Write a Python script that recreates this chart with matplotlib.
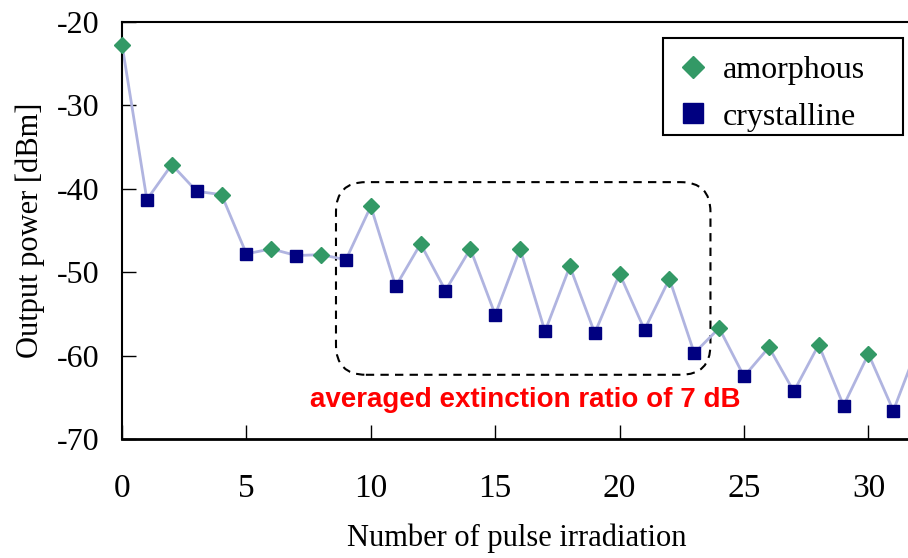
import numpy as np
import matplotlib
matplotlib.use('Agg')
import matplotlib.pyplot as plt
from matplotlib.patches import FancyBboxPatch, Rectangle

plt.rcParams['font.family'] = ['Liberation Serif']
plt.rcParams['axes.unicode_minus'] = False

# 照射回数と出力パワー
pulse = list(range(33))
power = [-22.7, -41.3, -37.1, -40.3, -40.7, -47.8, -47.2, -48.0, -47.9, -48.5,
         -42.1, -51.7, -46.6, -52.2, -47.2, -55.1, -47.2, -57.1, -49.3, -57.3,
         -50.2, -56.9, -50.8, -59.7, -56.7, -62.5, -59.0, -64.3, -58.7, -66.0,
         -59.8, -66.6, -58.8]
amorph_x = pulse[0::2]
amorph_y = power[0::2]
cryst_x = pulse[1::2]
cryst_y = power[1::2]

xticks = [0, 5, 10, 15, 20, 25, 30]
yticks = [-70, -60, -50, -40, -30, -20]

# 破線の角丸枠 (データ座標)
box_x0, box_x1 = 8.6, 23.65
box_y0, box_y1 = -62.3, -39.2
note = 'averaged extinction ratio of 7 dB'

fig = plt.figure(figsize=(9.08, 5.58), dpi=100)
ax = fig.add_axes([122/908, 1-439/558, 790/908, 417/558])

ax.plot(pulse, power, '-', color='#b0b4e0', lw=2, zorder=2, clip_on=False)
ax.plot(amorph_x, amorph_y, 'D', color='#339966', ms=7.8, ls='none',
        label='amorphous', zorder=3, clip_on=False)
ax.plot(cryst_x, cryst_y, 's', color='#000080', ms=8, ls='none',
        label='crystalline', zorder=3, clip_on=False)

ax.set_xlim(0, 31.75)
ax.set_ylim(-70, -20)
ax.set_xticks(xticks)
ax.set_yticks(yticks)
ax.set_yticklabels([str(v) for v in yticks])
ax.tick_params(axis='both', direction='in', length=10, width=1)
ax.tick_params(axis='x', pad=25, labelsize=24)
ax.tick_params(axis='y', pad=16, labelsize=23)
ax.spines['right'].set_visible(False)
ax.spines['bottom'].set_linewidth(2)
ax.spines['left'].set_linewidth(1.5)
ax.spines['top'].set_linewidth(1.5)

ax.set_xlabel('Number of pulse irradiation', fontsize=22, labelpad=14)
ax.set_ylabel('Output power [dBm]', fontsize=22, labelpad=9)

# 画素あたりの縦横比を合わせて角丸にする
aspect = (50/417) / (31.75/790)
box = FancyBboxPatch((box_x0, box_y0), box_x1-box_x0, box_y1-box_y0,
                     boxstyle='round,pad=0,rounding_size=1.2',
                     mutation_aspect=aspect, fill=False, ec='black',
                     ls=(0, (4, 3)), lw=1.5, zorder=1)
ax.add_patch(box)
ax.text(16.2, -65.3, note, color='red', fontsize=20, fontweight='bold',
        family='Liberation Sans', ha='center', va='center')

# 凡例 (枠は右側の余白が広いので別に描く)
leg = ax.legend(loc='upper left', bbox_to_anchor=(0.7025, 0.92),
                borderaxespad=0, borderpad=0, fontsize=23, frameon=False,
                handletextpad=0.44, labelspacing=0.55, handlelength=1.0)
leg.legend_handles[0].set_markersize(11.5)
leg.legend_handles[1].set_markersize(14.5)
ax.add_patch(Rectangle((0.6848, 0.729), 0.9886-0.6848, 0.9616-0.729,
                       transform=ax.transAxes, fill=True, fc='white',
                       ec='black', lw=1.5, zorder=4))
leg.set_zorder(5)

fig.savefig('out.png', dpi=100)
